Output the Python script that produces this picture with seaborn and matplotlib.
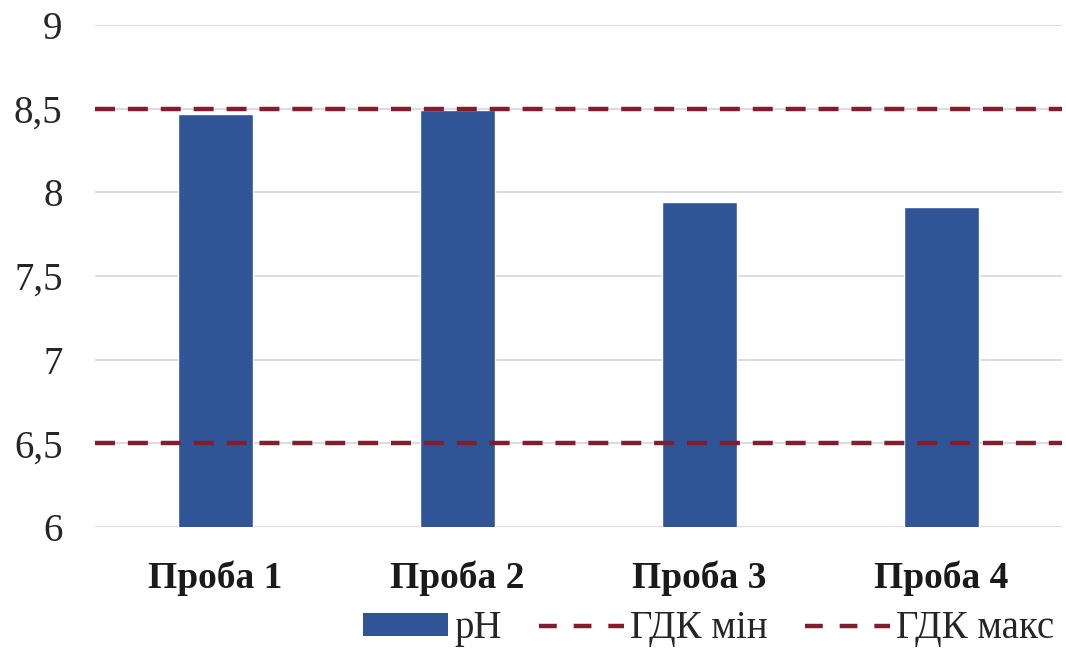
import matplotlib
matplotlib.use("Agg")
import matplotlib.pyplot as plt
from matplotlib.lines import Line2D
from matplotlib.patches import Patch
import seaborn as sns
import pandas as pd

# Sample names and measured pH
samples = ["Проба 1", "Проба 2", "Проба 3", "Проба 4"]
ph_values = [8.47, 8.49, 7.94, 7.91]

# Permissible limits (ГДК)
limit_min = 6.5
limit_max = 8.5

y_ticks = [6, 6.5, 7, 7.5, 8, 8.5, 9]
y_tick_labels = ["6", "6,5", "7", "7,5", "8", "8,5", "9"]

bar_color = "#2F5597"
limit_color = "#821D2D"
grid_color = "#D9D9D9"

sns.set_theme(style="white")
plt.rcParams["font.family"] = ["Liberation Serif", "DejaVu Serif"]

df = pd.DataFrame({"sample": samples, "pH": ph_values})

fig = plt.figure(figsize=(10.66, 6.53), dpi=100)
ax = fig.add_axes([0.0887, 0.193, 0.9075, 0.7687])

sns.barplot(data=df, x="sample", y="pH", color=bar_color, saturation=1,
            width=0.31, ax=ax, zorder=3)

ax.set_ylim(6, 9)
ax.set_xlim(-0.5, len(samples) - 0.5)
ax.set_yticks(y_ticks)
ax.set_yticklabels(y_tick_labels)
for y in y_ticks:
    ax.axhline(y, color=grid_color, lw=1.3, zorder=1)

lw_limit = 3.2
ax.axhline(limit_min, color=limit_color, lw=lw_limit, dashes=(4.5, 2.9), zorder=4)
ax.axhline(limit_max, color=limit_color, lw=lw_limit, dashes=(4.5, 2.9), zorder=4)

ax.set_xlabel("")
ax.set_ylabel("")
for s in ax.spines.values():
    s.set_visible(False)
ax.tick_params(axis="both", length=0)
ax.tick_params(axis="y", pad=23, labelsize=28, labelcolor="#262626")
ax.tick_params(axis="x", pad=24, labelsize=27, labelcolor="#1a1a1a")
for lbl in ax.get_xticklabels():
    lbl.set_fontweight("bold")

handles = [
    Patch(facecolor=bar_color, edgecolor="none", label="pH"),
    Line2D([0], [0], color=limit_color, lw=lw_limit, dashes=(4.0, 3.8), label="ГДК мін"),
    Line2D([0], [0], color=limit_color, lw=lw_limit, dashes=(4.0, 3.8), label="ГДК макс"),
]
fig.legend(handles=handles, loc="center", bbox_to_anchor=(0.6646, 0.037), ncol=3,
           frameon=False, fontsize=28, handlelength=2.2, handleheight=0.5,
           handletextpad=0.15, columnspacing=0.95, borderaxespad=0,
           labelcolor="#262626")

fig.savefig("out.png", dpi=100)
